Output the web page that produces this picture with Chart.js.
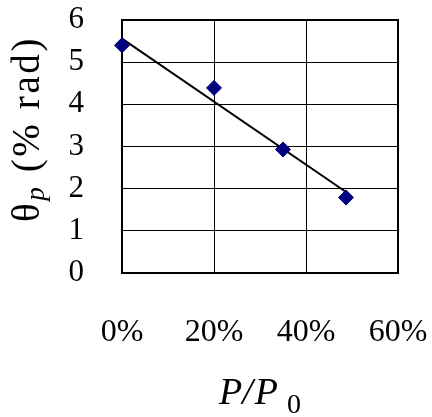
<!DOCTYPE html>
<html><head><meta charset="utf-8">
<script src="https://cdn.jsdelivr.net/npm/chart.js@4/dist/chart.umd.min.js"></script>
<style>html,body{margin:0;padding:0;background:#fff;}#wrap{width:432px;height:417px;}</style>
</head><body><div id="wrap"><canvas id="c" width="432" height="417"></canvas></div>
<script>
// Data
const loadRatio = [0, 20, 35, 48.7];      // P/P0 in %
const thetaP = [5.40, 4.39, 2.93, 1.79];  // θp in % rad
const trendX = [0, 48.7];                 // linear trendline ends
const trendY = [5.56, 1.92];
const xTickValues = [0, 20, 40, 60];
const yTickValues = [0, 1, 2, 3, 4, 5, 6];

const FONT = "'Liberation Serif', 'Times New Roman', serif";
const W = 432, H = 417;
const PLOT = {left: 122, right: 398, top: 20, bottom: 273};

const framePlugin = {
  id: 'frame',
  beforeDatasetsDraw(chart) {
    const {ctx, chartArea: a} = chart;
    ctx.save();
    ctx.strokeStyle = '#000';
    ctx.lineWidth = 2;
    ctx.strokeRect(a.left, a.top, a.right - a.left, a.bottom - a.top);
    ctx.restore();
  },
  afterDraw(chart) {
    const {ctx, chartArea: a} = chart;
    ctx.save();
    ctx.fillStyle = '#000';
    ctx.textBaseline = 'alphabetic';
    // Y title: θp (% rad), rotated
    const parts = [
      {t: 'θ', f: `39px ${FONT}`, dy: 0},
      {t: 'p', f: `italic 27px ${FONT}`, dy: 5},
      {t: ' (% rad)', f: `39px ${FONT}`, dy: 0}
    ];
    const targetLen = 186;
    let tw = 0, n = 0;
    parts.forEach(p => { ctx.font = p.f; p.w0 = ctx.measureText(p.t).width; tw += p.w0; n += p.t.length; });
    const ls = Math.max(0, (targetLen - tw) / n);
    const hasLS = ('letterSpacing' in ctx);
    ctx.translate(39, 129);
    ctx.rotate(-Math.PI / 2);
    if (!hasLS) ctx.scale(targetLen / tw, 1);
    let total = 0;
    parts.forEach(p => {
      ctx.font = p.f;
      if (hasLS) ctx.letterSpacing = ls + 'px';
      p.w = ctx.measureText(p.t).width;
      total += p.w;
    });
    let x = -total / 2;
    parts.forEach(p => {
      ctx.font = p.f;
      if (hasLS) ctx.letterSpacing = ls + 'px';
      ctx.fillText(p.t, x, p.dy);
      x += p.w;
    });
    ctx.restore();

    // X title: P/P0
    ctx.save();
    ctx.fillStyle = '#000';
    ctx.textBaseline = 'alphabetic';
    const xp = [
      {t: 'P', f: `italic 38px ${FONT}`, dy: 0, gap: 0},
      {t: '/', f: `italic 38px ${FONT}`, dy: 0, gap: 2},
      {t: 'P', f: `italic 38px ${FONT}`, dy: 0, gap: 9},
      {t: '0', f: `28px ${FONT}`, dy: 9, gap: 0}
    ];
    let xw = 0;
    xp.forEach(p => { ctx.font = p.f; p.w = ctx.measureText(p.t).width; xw += p.w + p.gap; });
    let cx = (a.left + a.right) / 2 - xw / 2;
    xp.forEach(p => { ctx.font = p.f; ctx.fillText(p.t, cx, 404 + p.dy); cx += p.w + p.gap; });
    ctx.restore();
  }
};

new Chart(document.getElementById('c'), {
  type: 'scatter',
  data: {
    datasets: [
      {
        type: 'line',
        data: trendX.map((x, i) => ({x, y: trendY[i]})),
        borderColor: '#000',
        borderWidth: 2,
        pointRadius: 0,
        fill: false,
        clip: false,
        order: 2
      },
      {
        data: loadRatio.map((x, i) => ({x, y: thetaP[i]})),
        pointStyle: 'rectRot',
        pointRadius: 7.5,
        pointHoverRadius: 7.5,
        backgroundColor: '#000080',
        borderColor: '#000080',
        borderWidth: 1,
        clip: false,
        order: 1
      }
    ]
  },
  options: {
    responsive: false,
    animation: false,
    devicePixelRatio: 1,
    layout: {padding: {left: 0, top: PLOT.top, right: W - PLOT.right, bottom: 0}},
    plugins: {legend: {display: false}, tooltip: {enabled: false}, title: {display: false}},
    scales: {
      x: {
        type: 'linear', min: 0, max: 60,
        afterBuildTicks(s) { s.ticks = xTickValues.map(v => ({value: v})); },
        afterFit(s) { s.height = H - PLOT.bottom; s.paddingLeft = 0; s.paddingRight = 0; },
        ticks: {
          callback: v => v + '%',
          font: {family: FONT, size: 32},
          color: '#000',
          padding: 40,
          maxRotation: 0,
          autoSkip: false
        },
        grid: {color: '#000', lineWidth: 1, drawTicks: false},
        border: {display: false}
      },
      y: {
        min: 0, max: 6,
        afterBuildTicks(s) { s.ticks = yTickValues.map(v => ({value: v})); },
        afterFit(s) { s.width = PLOT.left; s.paddingTop = 0; s.paddingBottom = 0; },
        ticks: {
          font: {family: FONT, size: 31},
          color: '#000',
          padding: 38,
          autoSkip: false
        },
        grid: {color: '#000', lineWidth: 1, drawTicks: false},
        border: {display: false}
      }
    }
  },
  plugins: [framePlugin]
});
</script></body></html>
